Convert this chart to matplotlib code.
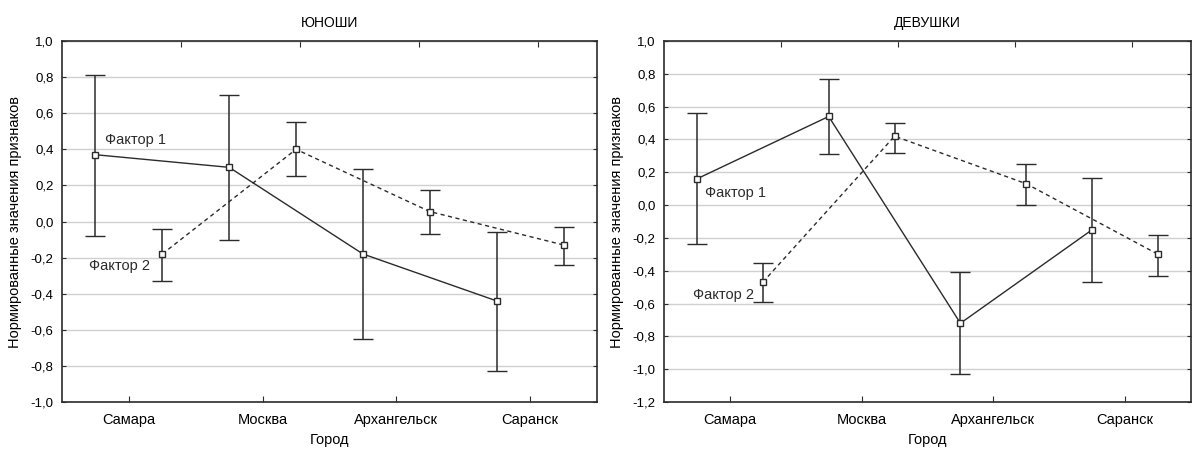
import numpy as np
import matplotlib.pyplot as plt
from matplotlib.ticker import FuncFormatter

plt.rcParams['font.family'] = ['Liberation Sans', 'DejaVu Sans']

cities = ['Самара', 'Москва', 'Архангельск', 'Саранск']

# юноши
boys_f1 = [0.37, 0.30, -0.18, -0.44]
boys_f1_hi = [0.81, 0.70, 0.29, -0.06]
boys_f1_lo = [-0.08, -0.10, -0.65, -0.83]
boys_f2 = [-0.18, 0.40, 0.055, -0.13]
boys_f2_hi = [-0.04, 0.55, 0.175, -0.03]
boys_f2_lo = [-0.33, 0.25, -0.07, -0.24]

# девушки
girls_f1 = [0.16, 0.54, -0.72, -0.15]
girls_f1_hi = [0.56, 0.77, -0.41, 0.165]
girls_f1_lo = [-0.24, 0.31, -1.03, -0.47]
girls_f2 = [-0.47, 0.42, 0.13, -0.30]
girls_f2_hi = [-0.35, 0.50, 0.25, -0.18]
girls_f2_lo = [-0.59, 0.32, 0.0, -0.43]

col = '#2b2b2b'
comma = FuncFormatter(lambda v, p: ('%.1f' % (round(v, 3) + 0.0)).replace('.', ','))


def draw(ax, f1, f1_hi, f1_lo, f2, f2_hi, f2_lo, title, ylim, lab1, lab2):
    x = np.arange(len(cities))
    for off, vals, hi, lo, ls in [(-0.25, f1, f1_hi, f1_lo, '-'),
                                  (0.25, f2, f2_hi, f2_lo, (0, (3, 2.5)))]:
        vals = np.array(vals)
        err = [vals - np.array(lo), np.array(hi) - vals]
        ax.errorbar(x + off, vals, yerr=err, color=col, lw=1.0, ls=ls,
                    marker='s', ms=5, mfc='white', mec=col, mew=1.0,
                    ecolor=col, elinewidth=1.1, capsize=7, capthick=1.1, zorder=3)
    ax.set_xlim(-0.5, 3.5)
    ax.set_ylim(*ylim)
    ax.set_yticks(np.round(np.arange(ylim[0], ylim[1] + 0.01, 0.2), 2))
    ax.yaxis.set_major_formatter(comma)
    ax.set_xticks(x)
    ax.set_xticklabels(cities)
    ax.grid(axis='y', color='#d0d0d0', lw=1.0)
    ax.set_axisbelow(True)
    ax.tick_params(axis='x', direction='in', length=4, labelsize=10.5, pad=8, color=col)
    ax.tick_params(axis='y', direction='in', length=3, labelsize=9.5, pad=6,
                   right=True, color=col)
    sec = ax.secondary_xaxis('top')
    sec.set_xticks(np.array([2, 4, 6, 8]) / 9 * 4 - 0.5)
    sec.set_xticklabels([])
    sec.tick_params(direction='in', length=4, color=col)
    sec.spines['top'].set_color(col)
    for s in ax.spines.values():
        s.set_color(col)
        s.set_linewidth(1.2)
    ax.set_title(title, fontsize=10, pad=10)
    ax.set_xlabel('Город', fontsize=10.5, labelpad=4)
    ax.set_ylabel('Нормированные значения признаков', fontsize=10.5, labelpad=6)
    ax.text(*lab1, 'Фактор 1', fontsize=10.5, color=col, transform=ax.transData)
    ax.text(*lab2, 'Фактор 2', fontsize=10.5, color=col, transform=ax.transData)


fig = plt.figure(figsize=(11.92, 4.5), dpi=100)
ax1 = fig.add_axes([62 / 1192, 48 / 450, 535 / 1192, 361 / 450])
ax2 = fig.add_axes([664 / 1192, 48 / 450, 527 / 1192, 361 / 450])

draw(ax1, boys_f1, boys_f1_hi, boys_f1_lo, boys_f2, boys_f2_hi, boys_f2_lo,
     'ЮНОШИ', (-1.0, 1.0), (-0.18, 0.43), (-0.3, -0.27))
draw(ax2, girls_f1, girls_f1_hi, girls_f1_lo, girls_f2, girls_f2_hi, girls_f2_lo,
     'ДЕВУШКИ', (-1.2, 1.0), (-0.19, 0.05), (-0.28, -0.57))

fig.savefig('out.png', dpi=100)
